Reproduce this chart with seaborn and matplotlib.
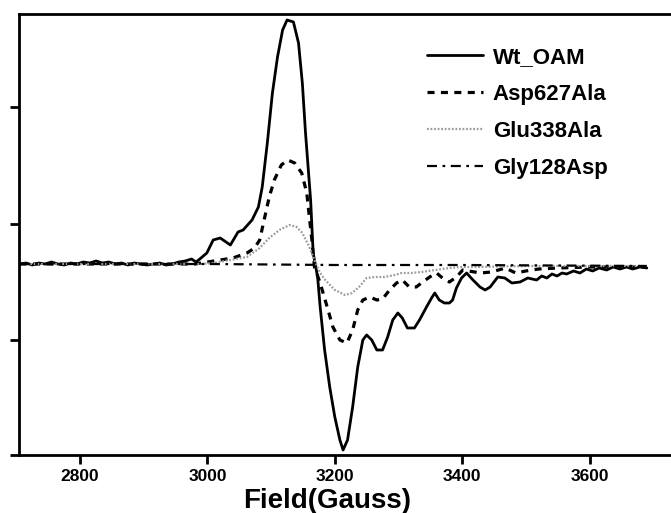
import numpy as np
import pandas as pd
import matplotlib
matplotlib.use("Agg")
import matplotlib.pyplot as plt
import seaborn as sns

# ---------------- data ----------------
wt_field = [2705, 2715, 2725, 2735, 2745, 2755, 2765, 2775, 2785, 2795,
            2805, 2815, 2825, 2835, 2845, 2855, 2865, 2875, 2885, 2895,
            2905, 2915, 2925, 2935, 2945, 2955, 2965, 2975, 2982, 2988,
            2999, 3009, 3020, 3036, 3048, 3056, 3070, 3080, 3086, 3094,
            3102, 3110, 3118, 3125, 3135, 3143, 3149, 3154, 3162, 3166,
            3173, 3177, 3184, 3192, 3200, 3208, 3213, 3220, 3228, 3236,
            3244, 3250, 3258, 3266, 3275, 3283, 3291, 3299, 3306, 3314,
            3325, 3333, 3344, 3352, 3357, 3364, 3372, 3380, 3385, 3391,
            3399, 3407, 3417, 3428, 3436, 3444, 3456, 3467, 3478, 3491,
            3503, 3517, 3525, 3533, 3541, 3549, 3557, 3564, 3575, 3585,
            3595, 3605, 3615, 3627, 3637, 3648, 3658, 3668, 3679, 3690]
wt_int = [0, 1, -1, 1, 0, 2, 0, -1, 1, 0,
          2, 1, 3, 1, 2, 0, 1, -1, 1, 0,
          -1, 0, 1, -1, 0, 2, 3, 5, 2, 5,
          11, 24, 26, 19, 32, 34, 44, 57, 77, 121,
          171, 207, 234, 244, 242, 221, 181, 131, 64, 11,
          -13, -43, -86, -123, -153, -176, -186, -176, -143, -103,
          -76, -71, -76, -86, -86, -73, -56, -49, -54, -64,
          -64, -56, -43, -34, -29, -36, -39, -39, -36, -24,
          -14, -9, -16, -23, -26, -23, -13, -14, -19, -18,
          -14, -16, -12, -14, -10, -12, -9, -10, -7, -9,
          -5, -7, -4, -6, -3, -5, -3, -5, -3, -4]

asp_field = [2705, 2800, 2900, 2980, 3000, 3040, 3062, 3074, 3082, 3090,
             3097, 3105, 3116, 3126, 3137, 3148, 3156, 3160, 3164, 3168,
             3177, 3188, 3197, 3208, 3219, 3228, 3236, 3244, 3255, 3266,
             3275, 3286, 3297, 3306, 3317, 3328, 3338, 3349, 3360, 3369,
             3380, 3391, 3401, 3410, 3429, 3446, 3468, 3484, 3500, 3520,
             3550, 3600, 3650, 3690]
asp_int = [0, 0, 0, 0, 2, 6, 11, 16, 24, 47,
           67, 84, 99, 104, 101, 91, 71, 47, 24, -3,
           -19, -43, -63, -76, -79, -66, -46, -36, -33, -36,
           -35, -26, -19, -16, -23, -23, -18, -13, -9, -14,
           -18, -13, -6, -7, -9, -8, -4, -9, -7, -5,
           -4, -3, -3, -3]

glu_field = [2705, 2800, 2900, 2990, 3009, 3036, 3062, 3082, 3097, 3113,
             3129, 3140, 3149, 3160, 3168, 3177, 3185, 3200, 3216, 3227,
             3238, 3250, 3263, 3278, 3294, 3305, 3320, 3336, 3357, 3380,
             3399, 3420, 3500, 3600, 3690]
glu_int = [0, 0, 0, 0, 1, 4, 7, 16, 26, 34,
           39, 37, 31, 17, 4, -9, -16, -26, -31, -29,
           -23, -14, -13, -13, -11, -9, -9, -8, -6, -4,
           -3, -3, -2, -2, -2]

gly_field = [2705, 3000, 3200, 3400, 3690]
gly_int = [0, 0, -1, -1, -2]

labels = ["Wt_OAM", "Asp627Ala", "Glu338Ala", "Gly128Asp"]
x_ticks = [2800, 3000, 3200, 3400, 3600]

# ---------------- figure ----------------
sns.set_style("ticks")
plt.rcParams["font.family"] = ["Liberation Sans", "DejaVu Sans"]
plt.rcParams["font.weight"] = "bold"
plt.rcParams["text.color"] = "black"
plt.rcParams["xtick.color"] = "black"
plt.rcParams["ytick.color"] = "black"
plt.rcParams["axes.labelcolor"] = "black"

fig = plt.figure(figsize=(6.71, 5.13), dpi=100)
ax = fig.add_axes([19 / 671, 58 / 513, 652 / 671, 441 / 513])

series = [
    (wt_field, wt_int, dict(color="black", lw=2.0, linestyle="-")),
    (asp_field, asp_int, dict(color="black", lw=2.3, linestyle=(0, (2.2, 2.0)))),
    (glu_field, glu_int, dict(color="#9a9a9a", lw=1.6, linestyle=(0, (0.8, 0.8)))),
    (gly_field, gly_int, dict(color="black", lw=1.6, linestyle=(0, (4.5, 2.5, 1.2, 2.5)))),
]
for (fx, fy, st), lab in zip(series, labels):
    df = pd.DataFrame({"Field": fx, "Intensity": fy})
    sns.lineplot(data=df, x="Field", y="Intensity", ax=ax, label=lab,
                 estimator=None, sort=False, **st)

ax.set_xlim(2704, 3728)
ax.set_ylim(-191, 250)
ax.set_xticks(x_ticks)
ax.set_xticklabels([str(t) for t in x_ticks], fontsize=12.5, fontweight="bold",
                   color="black")
ax.set_yticks([-191, -76, 40, 157])
ax.set_yticklabels([])
ax.set_ylabel("")
ax.set_xlabel("Field(Gauss)", fontsize=20, fontweight="bold", color="black")
ax.xaxis.set_label_coords(0.473, -0.074)

for s in ["left", "bottom", "top"]:
    ax.spines[s].set_linewidth(2.0)
    ax.spines[s].set_color("black")
ax.spines["right"].set_visible(False)
ax.tick_params(axis="both", direction="out", length=6.5, width=2.0,
               color="black", pad=3.5)

leg = ax.legend(loc="upper left", bbox_to_anchor=(0.626, 0.925), frameon=False,
                fontsize=16, handlelength=2.5, handletextpad=0.45,
                labelspacing=0.72, borderpad=0, borderaxespad=0)
for t in leg.get_texts():
    t.set_fontweight("bold")
    t.set_color("black")

fig.savefig("out.png", dpi=100)
